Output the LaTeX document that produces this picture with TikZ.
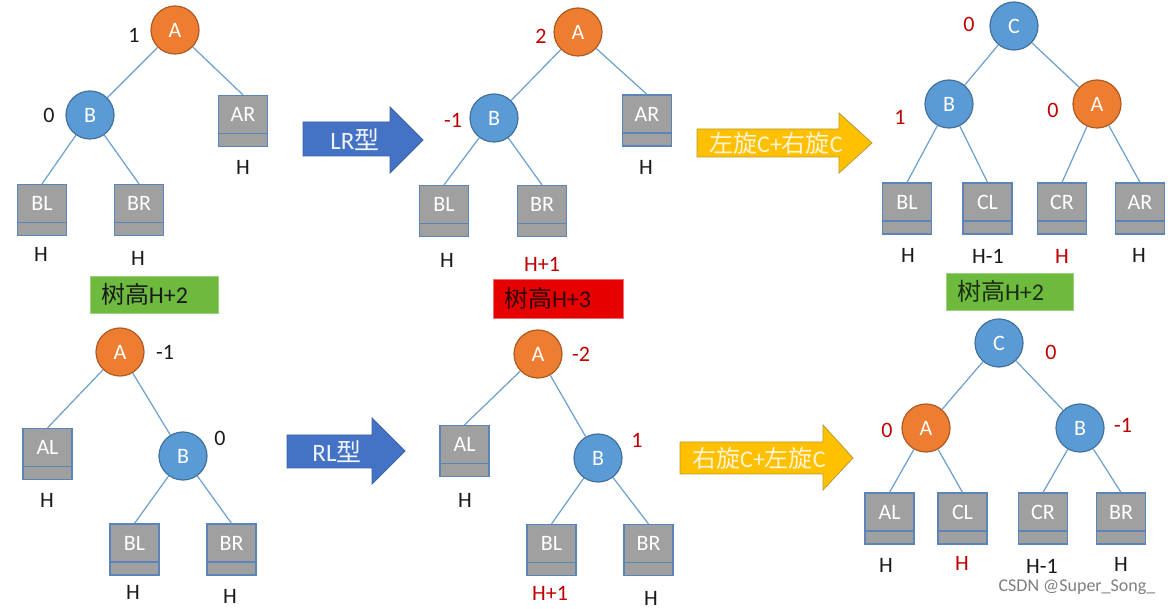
\documentclass[tikz,border=0pt]{standalone}
\usepackage{fontspec}
\setmainfont{Carlito}
\newfontfamily\cjk{Noto Sans CJK SC}
\definecolor{corange}{HTML}{ED7D31}
\definecolor{corangeb}{HTML}{AE5A21}
\definecolor{cblue}{HTML}{5B9BD5}
\definecolor{cblueb}{HTML}{41719C}
\definecolor{cgray}{HTML}{A0A0A0}
\definecolor{cboxb}{HTML}{5B84B8}
\definecolor{cedge}{HTML}{6A9FD0}
\definecolor{carrow}{HTML}{4472C4}
\definecolor{carrowb}{HTML}{3A62AA}
\definecolor{cyellow}{HTML}{FFC000}
\definecolor{cyellowb}{HTML}{B89A30}
\definecolor{cytext}{HTML}{FFF4D6}
\definecolor{cgreen}{HTML}{6DBA3F}
\definecolor{cgreenb}{HTML}{9CCF80}
\definecolor{cred}{HTML}{E60000}
\definecolor{credb}{HTML}{F07070}
\definecolor{cdred}{HTML}{C00000}
\definecolor{ctext}{HTML}{1A1A1A}
\begin{document}
\begin{tikzpicture}[x=0.5pt,y=-0.5pt,
  every node/.style={font=\fontsize{11}{13}\selectfont},
  orn/.style={circle, minimum size=24pt, inner sep=0pt, fill=corange, draw=corangeb, line width=0.6pt, text=white},
  bln/.style={circle, minimum size=24pt, inner sep=0pt, fill=cblue, draw=cblueb, line width=0.6pt, text=white},
  tbox/.style={rectangle, minimum width=24.5pt, minimum height=25.5pt, inner sep=0pt, fill=cgray, draw=cboxb, line width=0.6pt,
    path picture={\draw[cboxb, line width=0.6pt] ([yshift=6.5pt]path picture bounding box.south west) -- ([yshift=6.5pt]path picture bounding box.south east);}},
  bt/.style={label={[text=white, yshift=3.25pt]center:#1}},
  link/.style={draw=cedge, line width=0.6pt},
  num/.style={inner sep=0pt, text=ctext},
  rnum/.style={inner sep=0pt, text=cdred},
  hbox/.style={rectangle, inner xsep=5.5pt, inner ysep=0pt, align=left, font=\fontsize{12}{14}\selectfont},
  arrtxt/.style={inner sep=0pt, font=\fontsize{12.5}{15}\selectfont},
  yarrtxt/.style={inner sep=0pt, font=\fontsize{12}{14}\selectfont, text=cytext}
]
\useasboundingbox (0,0) rectangle (1174,609);
\fill[white] (0,0) rectangle (1174,609);

% ---------- top-left tree ----------
\node[orn] (a1) at (175,30) {A};
\node[bln] (b1) at (90,115) {B};
\node[tbox,bt=AR] (ar1) at (243,121) {};
\node[tbox,bt=BL] (bl1) at (42,210) {};
\node[tbox,bt=BR] (br1) at (139,210) {};
\draw[link] (a1) -- (b1);
\draw[link] (a1) -- (ar1.north);
\draw[link] (b1) -- (bl1.north);
\draw[link] (b1) -- (br1.north);
\node[num] (n1a) at (134,35) {1};
\node[num] (n1b) at (49,115) {0};
\node[num] (h1a) at (243,167) {H};
\node[num] (h1b) at (41,254) {H};
\node[num] (h1c) at (138,258) {H};
\node[hbox, fill=cgreen, draw=cgreenb, text width=53pt, minimum height=18.5pt, text=ctext] (g1) at (154,294.5) {{\cjk 树高}H+2};

% ---------- LR arrow ----------
\fill[carrow, draw=carrowb, line width=0.4pt] (303,122) -- (390,122) -- (390,107) -- (423,140) -- (390,173) -- (390,156) -- (303,156) -- cycle;
\node[arrtxt, text=white!92!carrow] (lr) at (355,140) {LR{\cjk 型}};

% ---------- top-middle tree ----------
\node[orn] (a2) at (578,32) {A};
\node[bln] (b2) at (494,118) {B};
\node[tbox,bt=AR] (ar2) at (647,120.5) {};
\node[tbox,bt=BL] (bl2) at (444,211) {};
\node[tbox,bt=BR] (br2) at (542,211) {};
\draw[link] (a2) -- (b2);
\draw[link] (a2) -- (ar2.north);
\draw[link] (b2) -- (bl2.north);
\draw[link] (b2) -- (br2.north);
\node[rnum] (n2a) at (541,36) {2};
\node[rnum] (n2b) at (453,120) {-1};
\node[num] (h2a) at (646,167) {H};
\node[num] (h2b) at (447,260) {H};
\node[rnum] (h2c) at (542,264) {H+1};
\node[hbox, fill=cred, draw=credb, text width=54pt, minimum height=19.5pt, text=black!80!cred] (r2) at (558,298.5) {{\cjk 树高}H+3};

% ---------- top yellow arrow ----------
\fill[cyellow, draw=cyellowb, line width=0.4pt] (697,129) -- (839,129) -- (839,113) -- (872,143) -- (839,173) -- (839,157) -- (697,157) -- cycle;
\node[yarrtxt] (y1) at (776,143) {{\cjk 左旋}C+{\cjk 右旋}C};

% ---------- top-right tree ----------
\node[bln] (c3) at (1014,26) {C};
\node[bln] (b3) at (949,104) {B};
\node[orn] (a3) at (1097,104) {A};
\node[tbox,bt=BL] (bl3) at (907,208.5) {};
\node[tbox,bt=CL] (cl3) at (987.5,208.5) {};
\node[tbox,bt=CR] (cr3) at (1062,208.5) {};
\node[tbox,bt=AR] (ar3) at (1140,208.5) {};
\draw[link] (c3) -- (b3);
\draw[link] (c3) -- (a3);
\draw[link] (b3) -- (bl3.north);
\draw[link] (b3) -- (cl3.north);
\draw[link] (a3) -- (cr3.north);
\draw[link] (a3) -- (ar3.north);
\node[rnum] (n3a) at (969,24) {0};
\node[rnum] (n3b) at (900,117) {1};
\node[rnum] (n3c) at (1053,110) {0};
\node[num] (h3a) at (908,255) {H};
\node[num] (h3b) at (988,256) {H-1};
\node[rnum] (h3c) at (1062,256) {H};
\node[num] (h3d) at (1139,255) {H};
\node[hbox, fill=cgreen, draw=cgreenb, text width=52.5pt, minimum height=18.5pt, text=black!75!cgreen] (g3) at (1009.5,291.5) {{\cjk 树高}H+2};

% ---------- bottom-left tree ----------
\node[orn] (a4) at (120,352) {A};
\node[bln] (b4) at (183,456) {B};
\node[tbox,bt=AL] (al4) at (47.5,454) {};
\node[tbox,bt=BL] (bl4) at (134.5,549.5) {};
\node[tbox,bt=BR] (br4) at (231.5,549.5) {};
\draw[link] (a4) -- (al4.north);
\draw[link] (a4) -- (b4);
\draw[link] (b4) -- (bl4.north);
\draw[link] (b4) -- (br4.north);
\node[num] (n4a) at (165,352) {-1};
\node[num] (n4b) at (220,438) {0};
\node[num] (h4a) at (47,500) {H};
\node[num] (h4b) at (133,592) {H};
\node[num] (h4c) at (230,596) {H};

% ---------- RL arrow ----------
\fill[carrow, draw=carrowb, line width=0.4pt] (287,435) -- (372,435) -- (372,418) -- (405,451) -- (372,484) -- (372,468) -- (287,468) -- cycle;
\node[arrtxt, text=white!92!carrow] (rl) at (337,452) {RL{\cjk 型}};

% ---------- bottom-middle tree ----------
\node[orn] (a5) at (538,354) {A};
\node[bln] (b5) at (598,458) {B};
\node[tbox,bt=AL] (al5) at (464.5,451) {};
\node[tbox,bt=BL] (bl5) at (551.5,550) {};
\node[tbox,bt=BR] (br5) at (648.5,550) {};
\draw[link] (a5) -- (al5.north);
\draw[link] (a5) -- (b5);
\draw[link] (b5) -- (bl5.north);
\draw[link] (b5) -- (br5.north);
\node[rnum] (n5a) at (581,354) {-2};
\node[rnum] (n5b) at (637,440) {1};
\node[num] (h5a) at (465,500) {H};
\node[rnum] (h5b) at (550,593) {H+1};
\node[num] (h5c) at (651,598) {H};

% ---------- bottom yellow arrow ----------
\fill[cyellow, draw=cyellowb, line width=0.4pt] (680,442) -- (823,442) -- (823,425) -- (853,458) -- (823,490) -- (823,474) -- (680,474) -- cycle;
\node[yarrtxt] (y2) at (759,458) {{\cjk 右旋}C+{\cjk 左旋}C};

% ---------- bottom-right tree ----------
\node[bln] (c6) at (999,343) {C};
\node[orn] (a6) at (926,428) {A};
\node[bln] (b6) at (1080,428) {B};
\node[tbox,bt=AL] (al6) at (889.5,518.5) {};
\node[tbox,bt=CL] (cl6) at (962.5,518.5) {};
\node[tbox,bt=CR] (cr6) at (1043,518.5) {};
\node[tbox,bt=BR] (br6) at (1121,518.5) {};
\draw[link] (c6) -- (a6);
\draw[link] (c6) -- (b6);
\draw[link] (a6) -- (al6.north);
\draw[link] (a6) -- (cl6.north);
\draw[link] (b6) -- (cr6.north);
\draw[link] (b6) -- (br6.north);
\node[rnum] (n6a) at (1051,352) {0};
\node[rnum] (n6b) at (887,430) {0};
\node[rnum] (n6c) at (1123,425) {-1};
\node[num] (h6a) at (886,565) {H};
\node[rnum] (h6b) at (962,563) {H};
\node[num] (h6c) at (1042,566) {H-1};
\node[num] (h6d) at (1121,564) {H};

% ---------- watermark ----------
\node[inner sep=0pt, text=black!50, font=\fontsize{9}{11}\selectfont] (wm) at (1077,587) {CSDN @Super\_Song\_};
\end{tikzpicture}
\end{document}
